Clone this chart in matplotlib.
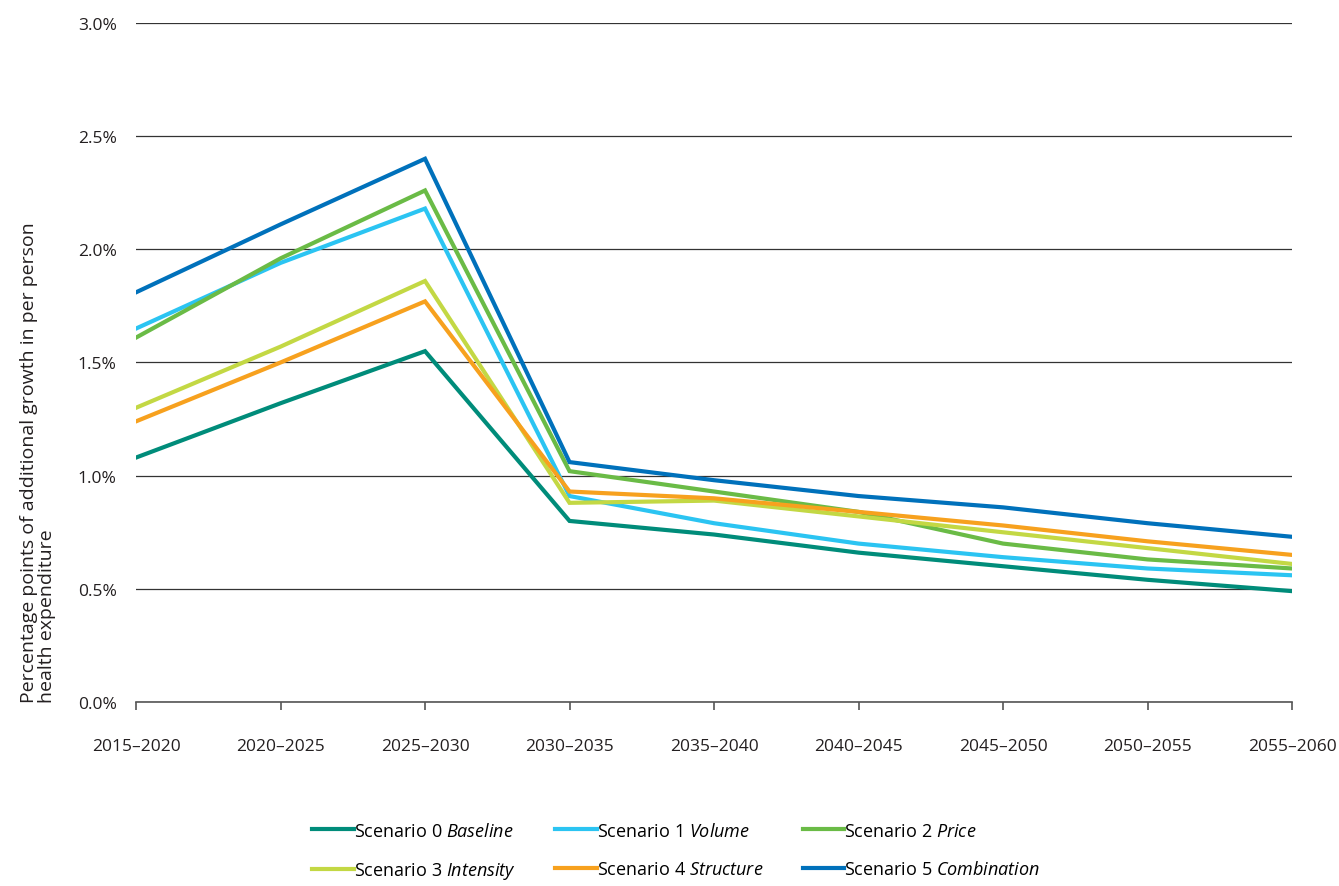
import matplotlib
matplotlib.use("Agg")
import matplotlib.pyplot as plt
from matplotlib import font_manager

periods = ["2015–2020", "2020–2025", "2025–2030", "2030–2035", "2035–2040",
           "2040–2045", "2045–2050", "2050–2055", "2055–2060"]

baseline = [1.08, 1.32, 1.55, 0.80, 0.74, 0.66, 0.60, 0.54, 0.49]
volume = [1.65, 1.94, 2.18, 0.91, 0.79, 0.70, 0.64, 0.59, 0.56]
price = [1.61, 1.96, 2.26, 1.02, 0.93, 0.84, 0.70, 0.63, 0.59]
intensity = [1.30, 1.57, 1.86, 0.88, 0.89, 0.82, 0.75, 0.68, 0.61]
structure = [1.24, 1.50, 1.77, 0.93, 0.90, 0.84, 0.78, 0.71, 0.65]
combination = [1.81, 2.11, 2.40, 1.06, 0.98, 0.91, 0.86, 0.79, 0.73]

scenario_names = ["Scenario 0", "Scenario 1", "Scenario 2",
                  "Scenario 3", "Scenario 4", "Scenario 5"]
scenario_tags = ["Baseline", "Volume", "Price", "Intensity", "Structure", "Combination"]
series = [baseline, volume, price, intensity, structure, combination]
colors = ["#008C7A", "#2BC4F2", "#6ABB46", "#C3D844", "#F7A11E", "#0071BB"]

y_ticks = [0.0, 0.5, 1.0, 1.5, 2.0, 2.5, 3.0]

installed = {f.name for f in font_manager.fontManager.ttflist}
family = "Liberation Sans Narrow" if "Liberation Sans Narrow" in installed else "Open Sans"
plt.rcParams["font.family"] = [family, "DejaVu Sans"]
plt.rcParams["mathtext.fontset"] = "custom"
plt.rcParams["mathtext.rm"] = family
plt.rcParams["mathtext.it"] = family + ":italic"

fig = plt.figure(figsize=(13.39, 8.87), dpi=100)
ax = fig.add_axes([0.1016, 0.2074, 0.8633, 0.7656])

x = list(range(len(periods)))
lines = []
for vals, c, name, tag in zip(series, colors, scenario_names, scenario_tags):
    ln, = ax.plot(x, vals, color=c, lw=3.0, solid_joinstyle="miter",
                  label=name + " $\\mathit{" + tag + "}$")
    lines.append(ln)

ax.set_xlim(0, len(periods) - 1)
ax.set_ylim(0, 3.0)
ax.set_yticks(y_ticks)
ax.set_yticklabels([f"{v:.1f}%" for v in y_ticks], fontsize=12.5, color="#231F20")
ax.set_xticks(x)
ax.set_xticklabels(periods, fontsize=12.5, color="#231F20")
ax.tick_params(axis="y", length=0, pad=14)
ax.tick_params(axis="x", length=6, width=1.2, color="#555555", pad=20)
ax.grid(axis="y", color="#333333", lw=0.9)
ax.set_axisbelow(True)
for side in ["left", "right", "top"]:
    ax.spines[side].set_visible(False)
ax.spines["bottom"].set_color("#555555")
ax.spines["bottom"].set_linewidth(1.2)

ax.set_ylabel("Percentage points of additional growth in per person\nhealth expenditure",
              fontsize=14, color="#231F20", loc="bottom", labelpad=16, linespacing=1.0)

order = [0, 3, 1, 4, 2, 5]
fig.legend([lines[i] for i in order], [lines[i].get_label() for i in order],
           loc="center", bbox_to_anchor=(0.505, 0.039), ncol=3, frameon=False,
           fontsize=13, handlelength=2.3, handletextpad=0.0, columnspacing=2.2,
           labelspacing=1.15)

fig.savefig("out.png", dpi=100)
